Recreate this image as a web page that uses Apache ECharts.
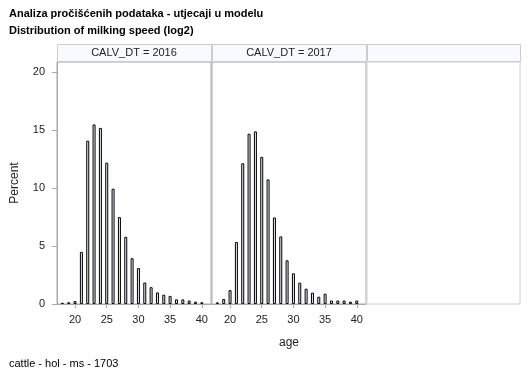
<!DOCTYPE html>
<html>
<head>
<meta charset="utf-8">
<script src="https://cdn.jsdelivr.net/npm/echarts@6/dist/echarts.min.js"></script>
<style>html,body{margin:0;padding:0;background:#fff}#c{width:529px;height:378px}</style>
</head>
<body>
<div id="c"></div>
<script>
const ages = [18,19,20,21,22,23,24,25,26,27,28,29,30,31,32,33,34,35,36,37,38,39,40];
const pct2016 = [0.1,0.15,0.25,4.5,14.1,15.5,15.2,12.2,9.95,7.5,5.8,3.95,3.1,1.85,1.45,1.0,0.8,0.7,0.4,0.4,0.3,0.2,0.15];
const pct2017 = [0.14,0.43,1.2,5.35,12.15,14.7,14.9,12.7,10.75,7.47,5.83,3.77,2.65,1.84,1.32,0.98,0.63,0.89,0.3,0.3,0.3,0.2,0.3];
const panelTitles = ['CALV_DT = 2016','CALV_DT = 2017',''];
const xTicks = [20,25,30,35,40];
const yTicks = [0,5,10,15,20];

const FONT = 'Liberation Sans, Arial, sans-serif';
const chart = echarts.init(document.getElementById('c'), null, {renderer:'canvas'});
const gridLeft = [57, 212, 367];
const gridW = [154, 154, 153];
const gTop = 62, gBottom = 378-304;
const grids = gridLeft.map((l,i)=>({left:l, width:gridW[i], top:gTop, bottom:gBottom, show:true,
  borderColor: i<2 ? '#a8a8a8' : '#d0d0d0', borderWidth:1, backgroundColor:'#fff'}));
const xAxes = gridLeft.map((l,i)=>({type:'value', gridIndex:i, min:17.15, max:41.45,
  axisLine:{show:i<2, lineStyle:{color:'#a8a8a8'}},
  axisTick:{show:i<2, length:4, customValues:xTicks, lineStyle:{color:'#a8a8a8'}},
  axisLabel:{show:i<2, customValues:xTicks, color:'#222', fontSize:11, fontFamily:FONT, margin:10},
  splitLine:{show:false}}));
const yAxes = gridLeft.map((l,i)=>({type:'value', gridIndex:i, min:0, max:20.89,
  axisLine:{show:i===0, lineStyle:{color:'#a8a8a8'}},
  axisTick:{show:i===0, length:5, customValues:yTicks, lineStyle:{color:'#a8a8a8'}},
  axisLabel:{show:i===0, customValues:yTicks, color:'#222', fontSize:11, fontFamily:FONT, margin:12},
  splitLine:{show:false},
  name: i===0 ? 'Percent' : '', nameLocation:'middle', nameGap:36,
  nameTextStyle:{color:'#222', fontSize:12, fontFamily:FONT}}));
const barStyle = {color:'#e6ebf3', borderColor:'#000', borderWidth:1};
const series = [pct2016, pct2017].map((p,i)=>({type:'bar', xAxisIndex:i, yAxisIndex:i,
  data: ages.map((a,k)=>[a,p[k]]), barWidth:3, itemStyle:barStyle, silent:true, animation:false}));
const graphics = [];
gridLeft.forEach((l,i)=>{
  graphics.push({type:'rect', left:l, top:44, shape:{width:gridW[i], height:17},
    style:{fill:'#f8faff', stroke:'#cccccc', lineWidth:1}});
  if (panelTitles[i]) graphics.push({type:'text', x:l+gridW[i]/2, y:53,
    style:{text:panelTitles[i], fill:'#222', font:'11px '+FONT, textAlign:'center', textVerticalAlign:'middle'}});
});
graphics.push({type:'text', x:289, y:343, style:{text:'age', fill:'#222', font:'12px '+FONT, textAlign:'center', textVerticalAlign:'middle'}});
graphics.push({type:'text', x:9, y:364, style:{text:'cattle - hol - ms - 1703', fill:'#000', font:'11px '+FONT, textAlign:'left', textVerticalAlign:'middle'}});
chart.setOption({
  animation:false,
  title:[
    {text:'Analiza pročišćenih podataka - utjecaji u modelu', left:9, top:8, padding:0,
     textStyle:{fontSize:11, fontWeight:'bold', color:'#000', fontFamily:FONT}},
    {text:'Distribution of milking speed (log2)', left:9, top:25, padding:0,
     textStyle:{fontSize:11, fontWeight:'bold', color:'#000', fontFamily:FONT}}
  ],
  grid:grids, xAxis:xAxes, yAxis:yAxes, series:series, graphic:graphics
});
</script>
</body>
</html>
